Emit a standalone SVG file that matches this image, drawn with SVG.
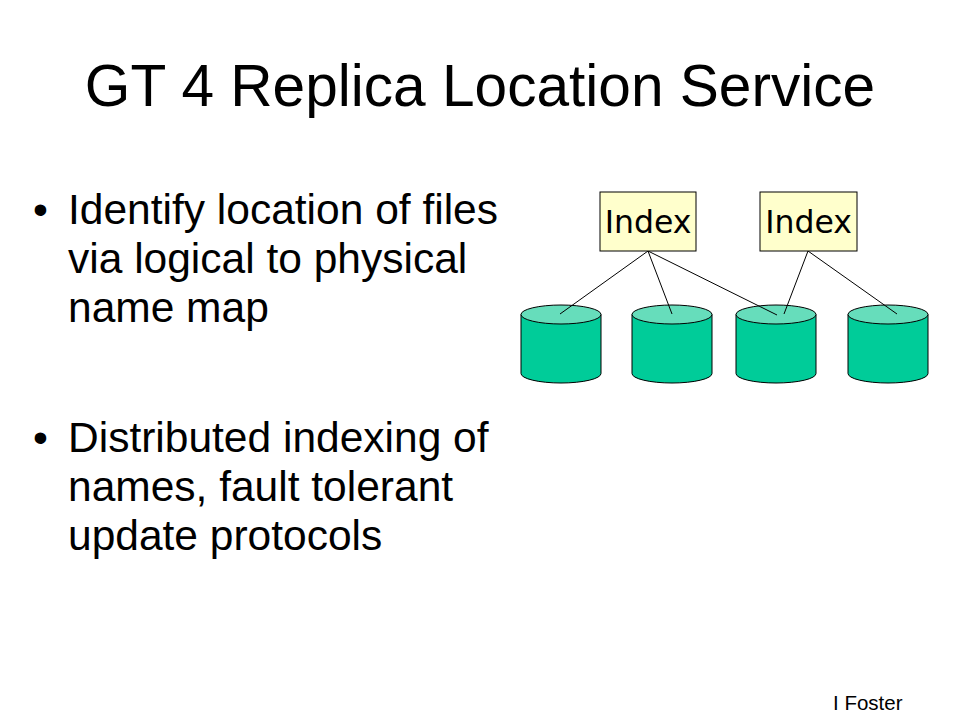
<svg xmlns="http://www.w3.org/2000/svg" width="960" height="720" viewBox="0 0 960 720">
<style>
.title{font-family:"Liberation Sans",Arial,sans-serif;font-size:58.6px;fill:#000}
.body{font-family:"Liberation Sans",Arial,sans-serif;font-size:42.5px;fill:#000}
.foot{font-family:"Liberation Sans",Arial,sans-serif;font-size:20.5px;fill:#000}
.idxbox{fill:#FFFFCC;stroke:#000;stroke-width:1}
.idxtxt{font-family:"DejaVu Sans",Verdana,sans-serif;font-size:31.5px;fill:#000;text-anchor:middle}
.cylside{fill:#00CC99;stroke:#000;stroke-width:1}
.cyltop{fill:#66DDBB;stroke:#000;stroke-width:1}
.conn line{stroke:#000;stroke-width:1}
</style>
<defs>
<g id="cylinder">
<path class="cylside" d="M0,9.5 L0,68.5 A40,9.5 0 0 0 80,68.5 L80,9.5 Z"/>
<ellipse class="cyltop" cx="40" cy="9.5" rx="40" ry="9.5"/>
</g>
</defs>
<rect width="960" height="720" fill="#fff"/>
<text class="title" x="480" y="106" text-anchor="middle">GT 4 Replica Location Service</text>
<g id="bullet1">
<text class="body" x="33" y="224">•</text>
<text class="body" x="68" y="224">Identify location of files</text>
<text class="body" x="68" y="273">via logical to physical</text>
<text class="body" x="68" y="322">name map</text>
</g>
<g id="bullet2">
<text class="body" x="33" y="452">•</text>
<text class="body" x="68" y="452">Distributed indexing of</text>
<text class="body" x="68" y="501">names, fault tolerant</text>
<text class="body" x="68" y="550">update protocols</text>
</g>
<g id="cyl1"><use href="#cylinder" x="521" y="305"/></g>
<g id="cyl2"><use href="#cylinder" x="632" y="305"/></g>
<g id="cyl3"><use href="#cylinder" x="736" y="305"/></g>
<g id="cyl4"><use href="#cylinder" x="848" y="305"/></g>
<g id="connectors" class="conn">
<line x1="648" y1="251" x2="560" y2="314"/>
<line x1="648" y1="251" x2="672" y2="314"/>
<line x1="648" y1="251" x2="777" y2="315"/>
<line x1="808" y1="251" x2="784" y2="314"/>
<line x1="808" y1="251" x2="897" y2="314"/>
</g>
<g id="index1">
<rect class="idxbox" x="600" y="192" width="96" height="59"/>
<text class="idxtxt" x="648" y="233">Index</text>
</g>
<g id="index2">
<rect class="idxbox" x="760" y="192" width="97" height="59"/>
<text class="idxtxt" x="808.5" y="233">Index</text>
</g>
<text class="foot" x="833" y="710">I Foster</text>
</svg>
